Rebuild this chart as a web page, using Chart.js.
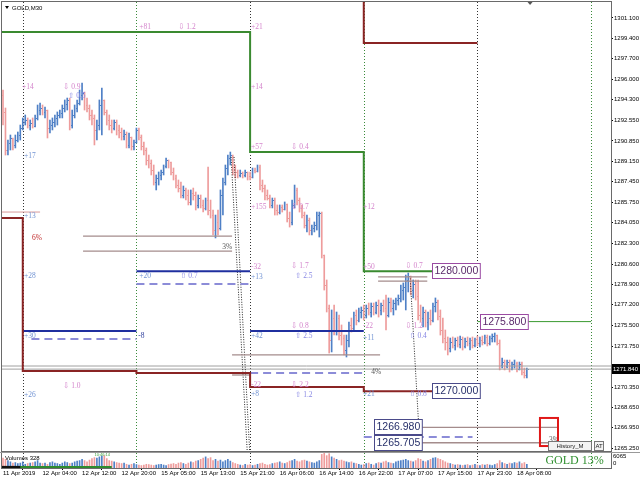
<!DOCTYPE html>
<html><head><meta charset="utf-8">
<script src="https://cdn.jsdelivr.net/npm/chart.js@4.4.1/dist/chart.umd.min.js"></script>
<style>
html,body{margin:0;padding:0;background:#fff;width:640px;height:480px;overflow:hidden}
#wrap{position:relative;width:640px;height:480px}
#main{position:absolute;left:0;top:0}
#vol{position:absolute;left:0;top:452px}
</style></head><body>
<div id="wrap"><canvas id="main" width="640" height="452"></canvas><canvas id="vol" width="640" height="28"></canvas></div>
<script>
// ---------- DATA (GOLD, M30) ----------
const barOpen = [1294.68,1293.27,1290.10,1290.68,1291.10,1290.52,1290.93,1291.35,1291.93,1292.43,1292.60,1292.18,1292.35,1292.10,1292.77,1293.43,1293.60,1293.27,1293.43,1291.93,1292.18,1292.43,1292.77,1293.02,1293.18,1293.60,1293.93,1294.27,1292.18,1293.02,1293.60,1294.02,1294.68,1294.85,1293.85,1293.60,1293.02,1292.77,1291.77,1292.18,1293.85,1294.27,1293.27,1292.60,1292.18,1291.93,1292.43,1291.77,1291.60,1291.27,1291.43,1290.52,1291.18,1290.43,1290.77,1291.77,1291.18,1290.43,1290.10,1289.27,1289.02,1288.43,1287.43,1287.77,1288.02,1288.27,1288.77,1289.27,1289.10,1288.27,1287.77,1287.18,1286.93,1286.35,1286.77,1286.35,1285.77,1286.52,1286.35,1285.52,1286.10,1285.52,1285.27,1285.93,1285.10,1284.68,1283.43,1284.10,1283.60,1286.35,1287.43,1288.60,1289.43,1289.68,1288.43,1288.27,1288.02,1288.18,1288.02,1288.27,1287.93,1287.85,1288.43,1288.35,1288.68,1287.18,1286.93,1286.35,1286.10,1285.52,1285.93,1285.10,1284.93,1285.35,1285.18,1285.60,1284.43,1284.10,1285.52,1286.77,1285.93,1285.27,1284.68,1283.85,1284.27,1283.43,1283.60,1283.85,1284.68,1284.85,1281.35,1278.85,1276.93,1274.27,1276.10,1275.10,1276.10,1274.68,1274.43,1273.43,1274.27,1275.52,1275.27,1276.35,1275.93,1276.60,1276.77,1276.35,1276.93,1276.60,1277.10,1276.60,1277.18,1276.77,1277.18,1276.93,1276.35,1277.43,1276.93,1277.35,1277.60,1277.77,1278.43,1278.68,1279.27,1279.60,1278.43,1278.93,1277.93,1276.35,1276.10,1276.60,1275.77,1276.10,1275.93,1277.10,1277.43,1276.27,1275.10,1274.43,1274.10,1273.60,1274.10,1273.85,1274.27,1273.93,1274.35,1273.77,1274.18,1274.02,1274.27,1273.85,1274.35,1274.02,1274.27,1274.10,1274.52,1274.02,1274.43,1274.60,1274.68,1274.02,1272.18,1272.43,1272.10,1272.43,1271.85,1272.27,1272.35,1271.85,1272.27,1271.60,1271.35];
const barHigh = [1295.10,1293.60,1290.93,1291.35,1291.10,1291.35,1291.60,1292.18,1292.77,1293.02,1292.77,1292.60,1292.77,1293.02,1293.85,1294.02,1293.85,1293.68,1293.43,1292.60,1292.77,1293.02,1293.27,1293.43,1293.85,1294.27,1294.43,1294.43,1293.43,1293.85,1294.27,1295.10,1295.68,1294.93,1294.43,1293.85,1293.43,1293.02,1292.60,1294.27,1295.27,1294.27,1293.43,1293.02,1292.60,1292.60,1292.60,1292.18,1291.93,1291.77,1291.60,1291.52,1291.18,1290.93,1291.93,1291.93,1291.35,1290.77,1290.27,1289.68,1289.27,1288.85,1288.02,1288.27,1288.43,1288.85,1289.43,1289.27,1289.10,1288.60,1288.02,1287.60,1287.43,1287.10,1286.93,1286.77,1286.77,1286.93,1286.60,1286.35,1286.35,1285.93,1286.10,1288.68,1285.93,1285.10,1284.68,1285.10,1286.77,1287.77,1288.85,1289.68,1289.93,1289.68,1288.85,1288.43,1288.43,1288.27,1288.43,1288.27,1288.27,1288.60,1288.60,1288.85,1288.85,1287.60,1287.18,1286.77,1286.35,1286.10,1286.10,1285.52,1285.52,1285.52,1285.77,1285.60,1284.93,1285.93,1287.18,1286.93,1286.10,1285.52,1284.93,1284.68,1284.43,1283.85,1284.10,1284.93,1284.93,1284.93,1281.35,1279.27,1277.18,1276.77,1277.18,1276.60,1276.35,1275.52,1274.68,1274.68,1275.77,1276.10,1276.60,1276.77,1276.93,1277.02,1277.18,1277.18,1277.35,1277.35,1277.35,1277.43,1277.60,1277.35,1277.60,1278.02,1277.77,1277.77,1277.60,1277.77,1278.02,1278.85,1279.02,1279.68,1279.85,1279.60,1279.27,1279.27,1279.27,1277.18,1277.02,1276.77,1276.60,1276.77,1277.35,1277.77,1277.60,1276.77,1276.10,1275.10,1274.52,1274.43,1274.52,1274.43,1274.52,1274.60,1274.52,1274.43,1274.52,1274.43,1274.52,1274.43,1274.60,1274.52,1274.60,1274.68,1274.68,1274.60,1274.77,1274.85,1274.68,1274.27,1272.77,1272.60,1272.60,1272.60,1272.43,1272.60,1272.43,1272.43,1272.43,1271.93,1271.93];
const barLow = [1292.18,1289.68,1289.68,1290.10,1290.10,1290.27,1290.77,1290.93,1291.77,1292.18,1291.93,1291.77,1291.93,1292.02,1292.60,1293.02,1293.02,1292.77,1291.10,1291.52,1291.77,1292.02,1292.18,1292.77,1292.77,1293.27,1293.43,1291.77,1291.93,1292.77,1293.27,1293.85,1294.27,1293.43,1293.27,1292.60,1292.18,1290.52,1290.93,1291.77,1291.35,1293.02,1292.18,1291.77,1291.52,1291.77,1291.35,1291.10,1290.93,1290.93,1290.27,1290.27,1290.10,1290.10,1290.68,1290.93,1290.10,1289.68,1288.85,1288.60,1288.02,1287.18,1286.77,1287.18,1287.60,1288.02,1288.60,1288.60,1288.02,1287.60,1286.93,1286.60,1286.10,1286.10,1285.93,1285.52,1285.52,1285.93,1285.10,1285.27,1285.27,1284.93,1285.10,1284.68,1284.43,1283.02,1282.77,1283.02,1283.43,1284.68,1287.18,1288.02,1288.85,1288.02,1287.77,1287.77,1287.85,1287.77,1287.85,1287.60,1287.60,1287.77,1288.18,1288.27,1286.77,1286.60,1285.93,1285.93,1285.27,1285.27,1284.68,1284.68,1284.77,1284.93,1285.10,1284.10,1283.68,1283.85,1285.27,1285.52,1284.93,1284.43,1283.60,1283.27,1283.02,1283.02,1283.27,1283.43,1282.85,1281.10,1278.43,1276.60,1273.18,1273.27,1274.68,1274.68,1274.27,1273.85,1273.02,1272.85,1273.68,1274.93,1275.10,1275.52,1275.77,1276.10,1275.93,1276.10,1276.35,1276.18,1276.35,1276.43,1276.18,1276.35,1276.60,1275.10,1276.18,1276.60,1276.35,1276.77,1277.18,1277.43,1277.60,1276.77,1278.27,1278.02,1277.77,1277.60,1275.93,1275.77,1275.35,1275.35,1275.10,1275.52,1275.77,1276.60,1275.93,1274.68,1274.02,1273.43,1273.02,1273.27,1273.60,1273.43,1273.68,1273.60,1273.43,1273.60,1273.77,1273.43,1273.60,1273.68,1273.77,1273.68,1273.85,1273.93,1273.77,1273.85,1274.10,1274.10,1273.85,1271.77,1271.93,1271.77,1271.93,1271.60,1271.77,1271.93,1271.60,1271.77,1271.35,1271.10,1271.10];
const barClose = [1293.27,1290.10,1290.68,1291.10,1290.52,1290.93,1291.35,1291.93,1292.43,1292.60,1292.18,1292.35,1292.10,1292.77,1293.43,1293.60,1293.27,1293.43,1291.93,1292.18,1292.43,1292.77,1293.02,1293.18,1293.60,1293.93,1294.27,1292.18,1293.02,1293.60,1294.02,1294.68,1294.85,1293.85,1293.60,1293.02,1292.77,1291.77,1292.18,1293.85,1294.27,1293.27,1292.60,1292.18,1291.93,1292.43,1291.77,1291.60,1291.27,1291.43,1290.52,1291.18,1290.43,1290.77,1291.77,1291.18,1290.43,1290.10,1289.27,1289.02,1288.43,1287.43,1287.77,1288.02,1288.27,1288.77,1289.27,1289.10,1288.27,1287.77,1287.18,1286.93,1286.35,1286.77,1286.35,1285.77,1286.52,1286.35,1285.52,1286.10,1285.52,1285.27,1285.93,1285.10,1284.68,1283.43,1284.10,1283.60,1286.35,1287.43,1288.60,1289.43,1289.68,1288.43,1288.27,1288.02,1288.18,1288.02,1288.27,1287.93,1287.85,1288.43,1288.35,1288.68,1287.18,1286.93,1286.35,1286.10,1285.52,1285.93,1285.10,1284.93,1285.35,1285.18,1285.60,1284.43,1284.10,1285.52,1286.77,1285.93,1285.27,1284.68,1283.85,1284.27,1283.43,1283.60,1283.85,1284.68,1284.85,1281.35,1278.85,1276.93,1274.27,1276.10,1275.10,1276.10,1274.68,1274.43,1273.43,1274.27,1275.52,1275.27,1276.35,1275.93,1276.60,1276.77,1276.35,1276.93,1276.60,1277.10,1276.60,1277.18,1276.77,1277.18,1276.93,1276.35,1277.43,1276.93,1277.35,1277.60,1277.77,1278.43,1278.68,1279.27,1279.60,1278.43,1278.93,1277.93,1276.35,1276.10,1276.60,1275.77,1276.10,1275.93,1277.10,1277.43,1276.27,1275.10,1274.43,1274.10,1273.60,1274.10,1273.85,1274.27,1273.93,1274.35,1273.77,1274.18,1274.02,1274.27,1273.85,1274.35,1274.02,1274.27,1274.10,1274.52,1274.02,1274.43,1274.60,1274.68,1274.02,1272.18,1272.43,1272.10,1272.43,1271.85,1272.27,1272.35,1271.85,1272.27,1271.60,1271.35,1271.84];
const tickVolume = [4000,3500,3000,2500,2000,2200,1800,2000,2500,1500,1800,2000,2200,2500,3000,2000,1800,2000,1500,2200,2500,2000,1800,1500,2000,2500,2200,1800,2000,2500,2800,3000,3500,3000,2500,3200,3800,4200,4000,4500,4800,5000,3800,3000,2800,2500,2200,2000,1800,2000,1500,1200,1500,1800,1400,1200,1000,1200,1500,1400,1200,1000,1200,1400,1500,1200,1000,1400,1600,1800,1500,2000,2200,1800,1500,2000,2500,2200,2800,3000,3500,4000,4500,3800,4200,3000,3500,2800,3200,2500,3000,3500,2800,2200,1800,1500,1200,1000,1500,1200,1400,1000,1200,1500,1800,2000,1500,1200,1400,1800,2000,2200,2500,2000,1800,2200,2800,3000,3500,2800,2500,3000,3200,2800,2500,2200,2000,2500,3000,5500,6000,5000,5800,4500,4000,3500,3000,3200,2800,2500,2200,2500,2000,1800,1500,1200,1400,1800,2000,1500,1200,1800,2200,2000,2500,2800,2200,2000,1800,2500,2800,3000,3200,3500,3000,2800,2500,3000,3800,3500,2800,2500,3000,3500,4000,4200,3800,3500,3000,2500,2000,1800,1500,1200,1400,1200,1000,1200,1400,1000,1200,1500,1200,1000,1400,1200,1500,1200,1000,1400,1800,3000,2200,1800,1500,2000,1800,2200,2000,2500,1800,2200,1500];
const timeLabels = ["11 Apr 2019","12 Apr 04:00","12 Apr 12:00","12 Apr 20:00","15 Apr 05:00","15 Apr 13:00","15 Apr 21:00","16 Apr 06:00","16 Apr 14:00","16 Apr 22:00","17 Apr 07:00","17 Apr 15:00","17 Apr 23:00","18 Apr 08:00"];
const timeLabelBars = [0,16,32,48,64,80,96,112,128,144,160,176,192,208];
const priceTicks = [1301.100,1299.400,1297.700,1296.000,1294.300,1292.550,1290.850,1289.150,1287.450,1285.750,1284.050,1282.300,1280.600,1278.900,1277.200,1275.500,1273.750,1272.050,1270.350,1268.650,1266.950,1265.250];
const daySeparatorBars = [8,54,100,146,192,238];
const currentPrice = 1271.84;
const askPrice = 1272.10;
const volumeMax = 6065;
// levels: [fromBar, toBar, price]
const greenStep = [[-0.5,100,1299.93],[100,146,1289.93],[146,192,1280.00]];
const greenTarget = [[192,238,1275.80]];
const redStep = [[-0.5,8,1284.43],[8,54,1271.68],[54,100,1271.52],[100,146,1270.35],[146,192,1270.00]];
const redTop = [[146,192,1299.02]];
const pinkLine = [[-0.5,15,1284.93]];
const blueSolid = [[8,54,1275.02],[54,100,1280.00],[100,146,1275.02]];
const blueDashed = [[11.5,54,1274.35],[54,100,1278.93],[100,146,1271.52],[146,190,1266.18]];
const grayLines = [[32.4,92.7,1282.93],[32.4,92.7,1281.68],[92.7,152.6,1273.02],[92.7,100,1271.35],[151.8,171.7,1279.52],[151.8,171.7,1279.18],[168.8,224.4,1266.98],[168.8,224.4,1265.705]];
// trend lines: [bar1, price1, bar2, price2]
const dottedTrends = [[92.3,1289.52,98.8,1265.10],[93.5,1289.52,99.8,1265.10],[164.8,1279.40,168.8,1265.10]];
// price boxes: [text, leftBar, price, style]
const priceBoxes = [["1280.000",173.7,1280.00,"p"],["1275.800",193.1,1275.80,"p"],["1270.000",173.7,1270.00,"n"],["1266.980",150.2,1266.98,"n"],["1265.705",150.2,1265.705,"n"]];
const targetBox = [217.3,224.6,1267.77,1265.43];
// small tags: [text, bar, price, colour]
const tags = [
 ["+81",55.1,1300.35,"pk"],["⇩ 1.2",70.9,1300.35,"pk"],["+21",100.4,1300.35,"pk"],
 ["+14",7.7,1295.35,"pk"],["⇩ 0.9",24.3,1295.35,"pk"],["⇧ 0.5",26.3,1294.6,"lv"],["+14",100.4,1295.35,"pk"],
 ["+17",8.5,1289.6,"bl"],["+57",100.4,1290.35,"pk"],["⇩ 0.4",116.6,1290.35,"pk"],
 ["+13",8.5,1284.6,"bl"],["+155",100.4,1285.35,"pk"],["⇩ 0.7",116.6,1285.35,"pk"],["+12",145.7,1285.35,"pk"],
 ["6%",11.7,1282.77,"rd"],["3%",88.7,1282.02,"dk"],
 ["+28",8.5,1279.6,"bl"],["+20",55.1,1279.6,"bl"],["⇧ 0.7",71.7,1279.6,"lv"],
 ["-32",100.4,1280.35,"pk"],["+13",100.4,1279.52,"bl"],["⇩ 1.7",116.6,1280.43,"pk"],["⇧ 2.5",118.2,1279.6,"lv"],
 ["+50",145.7,1280.35,"pk"],["⇩ 0.7",162.8,1280.43,"pk"],
 ["+30",8.5,1274.6,"bl"],["-8",54.7,1274.6,"nv"],["+42",100.4,1274.6,"bl"],["⇩ 0.8",116.6,1275.43,"pk"],["⇧ 2.5",118.2,1274.6,"lv"],
 ["-22",145.7,1275.43,"pk"],["+11",145.7,1274.43,"bl"],["⇩ 1.2",162.8,1275.43,"pk"],["⇧ 0.4",164.4,1274.6,"lv"],
 ["4%",149,1271.6,"dk"],
 ["⇩ 1.0",24.3,1270.43,"pk"],["+26",8.5,1269.68,"bl"],["-22",100.4,1270.52,"pk"],["⇩ 2.2",116.6,1270.52,"pk"],
 ["+8",100.4,1269.77,"bl"],["⇧ 1.2",118.2,1269.68,"lv"],["+21",145.7,1269.77,"bl"],["⇧ 0.8",164.4,1269.77,"lv"],
 ["3%",221,1265.93,"dk"]
];
// ---------- STYLE ----------
const BULL = '#4f80c6', BEAR = '#ee9c9c';
const TAGC = {pk:'#d485cc', bl:'#7193d3', lv:'#8888e4', nv:'#2a3a9a', rd:'#c02828', dk:'#555555'};
const XMIN = -0.405, XMAX = 246.05, YMIN = 1265.017, YMAX = 1302.433;
const barColors = barClose.map((c,i)=> c >= barOpen[i] ? BULL : BEAR);
Chart.defaults.font.family = '"Liberation Sans", Arial, sans-serif';
Chart.defaults.color = '#000';

function segPts(segs){const p=[];segs.forEach(s=>{p.push({x:s[0],y:s[2]});p.push({x:s[1],y:s[2]});});return p;}
function lineDs(points,color,width,dash,order){return {type:'line',data:points,borderColor:color,borderWidth:width,borderDash:dash||[],pointRadius:0,fill:false,tension:0,order:order||1,spanGaps:false};}

const datasets = [];
datasets.push(lineDs(segPts(greenStep),'#3a8a30',2));
datasets.push(lineDs(segPts(greenTarget),'#3a9a30',1));
datasets.push(lineDs(segPts(redStep),'#8a2424',2));
datasets.push(lineDs([{x:146,y:YMAX+1},{x:146,y:redTop[0][2]},{x:192,y:redTop[0][2]}],'#8a2424',2));
pinkLine.forEach(s=>datasets.push(lineDs(segPts([s]),'#d89a9a',1)));
blueSolid.forEach(s=>datasets.push(lineDs(segPts([s]),'#1f2f9f',2)));
blueDashed.forEach(s=>datasets.push(lineDs(segPts([s]),'#8c8cd8',2,[8,5])));
grayLines.forEach(s=>datasets.push(lineDs(segPts([s]),'#a48c8c',1.3)));
dottedTrends.forEach(t=>datasets.push(lineDs([{x:t[0],y:t[1]},{x:t[2],y:t[3]}],'#222',1,[1,1.5])));
datasets.push(lineDs(segPts([[XMIN,XMAX,askPrice]]),'#a0a0a0',1));
datasets.push(lineDs(segPts([[XMIN,XMAX,currentPrice]]),'#a0a0a0',1));
const BAR_DS = datasets.length;
datasets.push({type:'bar',data:barHigh.map((h,i)=>({x:i,y:[barLow[i],h]})),backgroundColor:barColors,barThickness:1,borderWidth:0,order:10,grouped:false});

function drawSeparators(chart){
  const {ctx, chartArea:a, scales:{x}} = chart;
  ctx.save();ctx.lineWidth=1;ctx.setLineDash([1,2]);
  daySeparatorBars.forEach((b,k)=>{
    const px = Math.round(x.getPixelForValue(b))+0.5;
    ctx.strokeStyle = k%2===0 ? '#333' : '#3a8a3a';
    ctx.beginPath();ctx.moveTo(px,a.top);ctx.lineTo(px,a.bottom);ctx.stroke();
  });
  ctx.restore();
}

const mainPlugin = {
  id:'mainDeco',
  beforeDatasetsDraw(chart){ drawSeparators(chart); },
  afterDatasetDraw(chart,args){
    if(args.index!==BAR_DS) return;
    const {ctx, scales:{x,y}} = chart;
    ctx.save();
    for(let i=0;i<barOpen.length;i++){
      const px = Math.round(x.getPixelForValue(i));
      ctx.fillStyle = barColors[i];
      ctx.fillRect(px-1, Math.round(y.getPixelForValue(barOpen[i])), 1, 1);
      ctx.fillRect(px+1, Math.round(y.getPixelForValue(barClose[i])), 1, 1);
    }
    ctx.restore();
  },
  afterDatasetsDraw(chart){
    const {ctx, chartArea:a, scales:{x,y}} = chart;
    ctx.save();
    ctx.beginPath();ctx.rect(a.left,a.top,a.right-a.left,a.bottom-a.top);ctx.clip();
    ctx.textBaseline='middle';ctx.textAlign='left';
    ctx.font='7.5px "Liberation Serif", "DejaVu Serif", serif';
    tags.forEach(t=>{ctx.fillStyle=TAGC[t[3]];ctx.fillText(t[0],x.getPixelForValue(t[1]),y.getPixelForValue(t[2]));});
    ctx.strokeStyle='#e01818';ctx.lineWidth=2;
    const rx1=x.getPixelForValue(targetBox[0]), rx2=x.getPixelForValue(targetBox[1]);
    const ry1=y.getPixelForValue(targetBox[2]), ry2=y.getPixelForValue(targetBox[3]);
    ctx.strokeRect(rx1,ry1,rx2-rx1,ry2-ry1);
    ctx.font='10.5px "Liberation Sans", Arial, sans-serif';
    priceBoxes.forEach(b=>{
      const bx=Math.round(x.getPixelForValue(b[1]))+0.5, by=Math.round(y.getPixelForValue(b[2]));
      const w=ctx.measureText(b[0]).width+4, h=15;
      ctx.fillStyle='#fff';ctx.fillRect(bx,by-7.5,w,h);
      ctx.strokeStyle = b[3]==='p' ? '#9a4aa2' : '#4a4a8a';ctx.lineWidth=1;
      ctx.strokeRect(bx,by-7.5,w,h);
      ctx.fillStyle = b[3]==='p' ? '#5a2a6a' : '#27306a';
      ctx.fillText(b[0],bx+2,by+0.5);
    });
    ctx.restore();
    ctx.save();
    const bl=a.right-63, bt=a.bottom-10;
    ctx.fillStyle='#f3f3f3';ctx.strokeStyle='#777';ctx.lineWidth=1;
    ctx.fillRect(bl+0.5,bt+0.5,43,9);ctx.strokeRect(bl+0.5,bt+0.5,43,9);
    ctx.fillRect(bl+46.5,bt+0.5,9,9);ctx.strokeRect(bl+46.5,bt+0.5,9,9);
    ctx.fillStyle='#222';ctx.font='6px "Liberation Sans", Arial, sans-serif';ctx.textBaseline='middle';
    ctx.textAlign='center';ctx.fillText('History_M',bl+22,bt+5.5);ctx.fillText('AT',bl+51,bt+5.5);
    ctx.strokeStyle='#6a6a6a';ctx.lineWidth=1;
    ctx.strokeRect(a.left-0.5,a.top-0.5,a.right-a.left+1,a.bottom-a.top+1);
    ctx.fillStyle='#000';ctx.textAlign='left';ctx.font='6px "Liberation Sans", Arial, sans-serif';
    ctx.beginPath();ctx.moveTo(a.left+3,a.top+4);ctx.lineTo(a.left+7,a.top+4);ctx.lineTo(a.left+5,a.top+7);ctx.closePath();ctx.fill();
    ctx.fillText('GOLD,M30',a.left+10,a.top+6);
    const sx = x.getPixelForValue(213.3);
    ctx.fillStyle='#555';ctx.beginPath();ctx.moveTo(sx-2.5,a.top);ctx.lineTo(sx+2.5,a.top);ctx.lineTo(sx,a.top+3);ctx.closePath();ctx.fill();
    const cy = Math.round(y.getPixelForValue(currentPrice));
    ctx.fillStyle='#000';ctx.fillRect(a.right+1,cy-5,29,10);
    ctx.fillStyle='#fff';ctx.textBaseline='middle';ctx.fillText(currentPrice.toFixed(3),a.right+2,cy+0.5);
    ctx.restore();
  }
};

new Chart(document.getElementById('main'),{
  type:'bar',
  data:{datasets},
  options:{
    responsive:false, animation:false, events:[],
    layout:{padding:{left:2,top:2,right:0,bottom:1}},
    plugins:{legend:{display:false},tooltip:{enabled:false}},
    scales:{
      x:{type:'linear',min:XMIN,max:XMAX,offset:false,display:false},
      y:{type:'linear',position:'right',min:YMIN,max:YMAX,
        afterBuildTicks(s){s.ticks=priceTicks.map(v=>({value:v}));},
        afterFit(s){s.width=29;s.paddingTop=0;s.paddingBottom=0;},
        ticks:{autoSkip:false,padding:1,font:{size:6},color:'#000',callback:(v,i)=>priceTicks[i].toFixed(3)},
        grid:{drawOnChartArea:false,drawTicks:true,tickLength:2,color:'#000'},
        border:{display:true,color:'#000'}}
    }
  },
  plugins:[mainPlugin]
});

const volPlugin = {
  id:'volDeco',
  beforeDatasetsDraw(chart){drawSeparators(chart);},
  afterDatasetsDraw(chart){
    const {ctx, chartArea:a, scales:{x}} = chart;
    ctx.save();
    ctx.strokeStyle='#6a6a6a';ctx.lineWidth=1;
    ctx.strokeRect(a.left-0.5,a.top-0.5,a.right-a.left+1,a.bottom-a.top+1);
    ctx.beginPath();ctx.moveTo(0,0.5);ctx.lineTo(640,0.5);ctx.strokeStyle='#999';ctx.stroke();
    ctx.fillStyle='#000';ctx.font='6px "Liberation Sans", Arial, sans-serif';ctx.textBaseline='middle';ctx.textAlign='left';
    ctx.fillText('Volumes 328',a.left+3,a.top+5);
    ctx.fillText(String(volumeMax),a.right+2,a.top+3);
    ctx.fillText('0',a.right+2,a.top+10);
    ctx.fillStyle='#3aa03a';ctx.font='4px "Liberation Sans", Arial, sans-serif';
    ctx.fillText('10:46:14',x.getPixelForValue(37),a.top+1.5);
    ctx.fillStyle='#2f8f2f';ctx.font='12px "Liberation Serif", "DejaVu Serif", serif';
    ctx.fillText('GOLD 13%',x.getPixelForValue(219.5),a.top+7.5);
    ctx.restore();
  }
};

new Chart(document.getElementById('vol'),{
  type:'bar',
  data:{datasets:[
    {type:'line',data:[{x:-0.5,y:250},{x:44,y:250}],borderColor:'#2e8b2e',borderWidth:3,pointRadius:0,order:1},
    {type:'line',data:[{x:-0.5,y:250},{x:7,y:250}],borderColor:'#111',borderWidth:3,pointRadius:0,order:0},
    {type:'bar',data:tickVolume.map((v,i)=>({x:i,y:v})),backgroundColor:barColors,barThickness:1,borderWidth:0,order:5}
  ]},
  options:{
    responsive:false, animation:false, events:[],
    layout:{padding:{left:2,top:1,right:29,bottom:0}},
    plugins:{legend:{display:false},tooltip:{enabled:false}},
    scales:{
      x:{type:'linear',min:XMIN,max:XMAX,offset:false,
        afterBuildTicks(s){s.ticks=timeLabelBars.map(v=>({value:v}));},
        afterFit(s){s.height=12;s.paddingLeft=0;s.paddingRight=0;},
        ticks:{autoSkip:false,maxRotation:0,align:'start',padding:0,font:{size:6},color:'#000',callback:(v,i)=>timeLabels[i]},
        grid:{drawOnChartArea:false,drawTicks:true,tickLength:2,color:'#000'},
        border:{display:true,color:'#000'}},
      y:{type:'linear',min:0,max:volumeMax,display:false}
    }
  },
  plugins:[volPlugin]
});
</script></body></html>
